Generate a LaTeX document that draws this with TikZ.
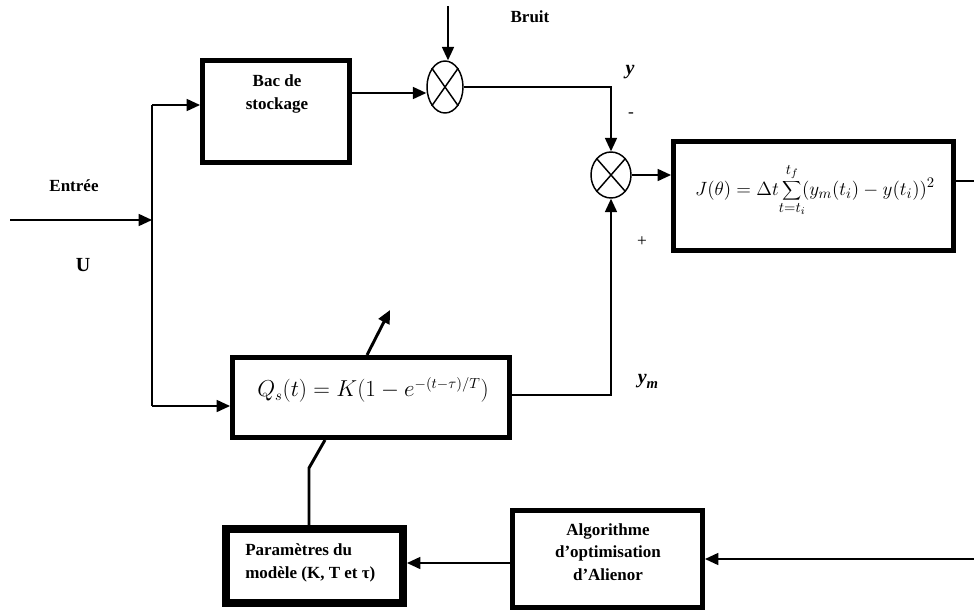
\documentclass[tikz,border=0pt]{standalone}
\usepackage{fontspec}
\setmainfont{Liberation Serif}
\usetikzlibrary{arrows.meta,shapes.geometric}
\begin{document}
\begin{tikzpicture}[x=0.75pt,y=-0.75pt,
  conn/.style={line width=1.2pt},
  arr/.style={conn,-{Triangle[length=10pt,width=9pt]}},
  blk/.style={draw,rectangle,inner sep=0pt},
  lbl/.style={font=\fontsize{12.75}{16.9}\selectfont\bfseries, align=center, inner sep=0pt},
  summ/.style={draw,ellipse,line width=1.1pt,inner sep=0pt}]
\useasboundingbox (0,0) rectangle (974,611);

% blocks
\node[blk,line width=3.75pt,minimum width=110.25pt,minimum height=76.5pt] (bac) at (276,111.5) {};
\node[lbl] (bact) at (277,94) {Bac de\\stockage};
\node[blk,line width=3.75pt,minimum width=207.75pt,minimum height=60pt] (Q) at (371,397.5) {};
\node[inner sep=0pt,font=\fontsize{16.3}{18}\selectfont] (Qt) at (373,390) {$Q_s(t)=K(1-e^{-(t-\tau)/T})$};
\node[blk,line width=3.75pt,minimum width=210pt,minimum height=81.75pt] (J) at (813.5,196) {};
\node[inner sep=0pt,font=\fontsize{15.3}{17}\selectfont] (Jt) at (815,190) {$\displaystyle J\bigl(\theta\bigr)=\Delta t\!\sum_{t=t_i}^{t_f}\!(y_m(t_i)-y(t_i))^{2}$};
\node[blk,line width=6pt,minimum width=132.75pt,minimum height=55.5pt] (P) at (314.5,566) {};
\node[lbl,align=left,anchor=west] (Pt) at (245,563) {Paramètres du\\modèle (K, T et τ)};
\node[blk,line width=3.75pt,minimum width=142.5pt,minimum height=72.75pt] (A) at (607.5,559) {};
\node[lbl] (At) at (608,552) {Algorithme\\d’optimisation\\d’Alienor};

% summing junctions
\node[summ,minimum width=27pt,minimum height=39pt] (s1) at (445,87) {};
\draw[line width=1.1pt] (s1.north east) -- (s1.south west) (s1.north west) -- (s1.south east);
\node[summ,minimum width=30pt,minimum height=34.5pt] (s2) at (611,175) {};
\draw[line width=1.1pt] (s2.north east) -- (s2.south west) (s2.north west) -- (s2.south east);

% labels
\node[lbl] (bruit) at (530,17) {Bruit};
\node[lbl] (entree) at (74,186) {Entrée};
\node[lbl,font=\fontsize{15}{16}\selectfont\bfseries] (U) at (83,265) {U};
\node[inner sep=0pt,font=\fontsize{15}{16}\selectfont\bfseries\itshape] (ylab) at (630,72) {y};
\node[inner sep=0pt,font=\fontsize{13}{14}\selectfont] (minus) at (631,115) {-};
\node[inner sep=0pt,font=\fontsize{13}{14}\selectfont] (plus) at (642,242) {+};
\node[inner sep=0pt,font=\fontsize{15}{16}\selectfont\bfseries\itshape] (ymlab) at (648,381) {y\raisebox{-0.25em}{\fontsize{11}{12}\selectfont m}};

% connectors
\coordinate (in) at (10,220);
\coordinate (j) at (152,220);
\coordinate (jt) at (152,105);
\coordinate (jb) at (152,406);
\draw[arr] (in) -- (j);
\draw[conn] (jt) -- (jb);
\draw[arr] (jt) -- (jt -| bac.west);
\draw[arr] (jb) -- (jb -| Q.west);
\coordinate (btop) at (448,6);
\draw[arr] (btop) -- (btop |- s1.north);
\coordinate (bo) at (353,93);
\draw[arr] (bac.east |- bo) -- (bo -| s1.west);
\draw[arr] (s1.east) -| (s2.north);
\draw[arr] (s2.east) -- (s2.east -| J.west);
\coordinate (qo) at (512,395);
\draw[arr] (Q.east |- qo) -| (s2.south);
\coordinate (jo) at (974,181);
\draw[conn] (J.east |- jo) -- (jo);
\coordinate (ain) at (974,559);
\draw[arr] (ain) -- (A.east);
\coordinate (ao) at (510,563);
\draw[arr] (A.west |- ao) -- (ao -| P.east);
\coordinate (k1) at (309,468);
\coordinate (qb) at (325,440);
\draw[line width=2.2pt] (P.north -| k1) -- (k1) -- (qb);
\coordinate (d1) at (367,355);
\coordinate (d2) at (390,310);
\draw[line width=2.2pt,-{Triangle[length=10pt,width=9pt]}] (d1) -- (d2);
\end{tikzpicture}
\end{document}
